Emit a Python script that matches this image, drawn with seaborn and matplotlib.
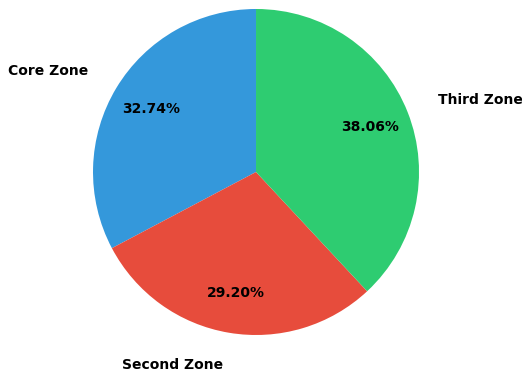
import matplotlib
matplotlib.use("Agg")
import matplotlib.pyplot as plt
import seaborn as sns

sns.set_theme(style="white")
plt.rcParams['font.family'] = ['DejaVu Sans']

zones = ["Core Zone", "Second Zone", "Third Zone"]
shares = [32.74, 29.20, 38.06]
colors = ["#3498db", "#e74c3c", "#2ecc71"]

fig = plt.figure(figsize=(5.22, 3.75), dpi=100)
ax = fig.add_axes([0.1001, -0.002, 0.7807, 1.0867])
wedges, texts, autotexts = ax.pie(
    shares, labels=zones, colors=colors, startangle=90, counterclock=True,
    autopct="%.2f%%", pctdistance=0.75, labeldistance=1.2,
    wedgeprops={"linewidth": 0, "edgecolor": "none"},
    textprops={"fontsize": 10, "fontweight": "bold", "color": "black"},
)
ax.set_xlim(-1.25, 1.25)
ax.set_ylim(-1.25, 1.25)
ax.set_aspect("equal")
fig.savefig("out.png", dpi=100)
